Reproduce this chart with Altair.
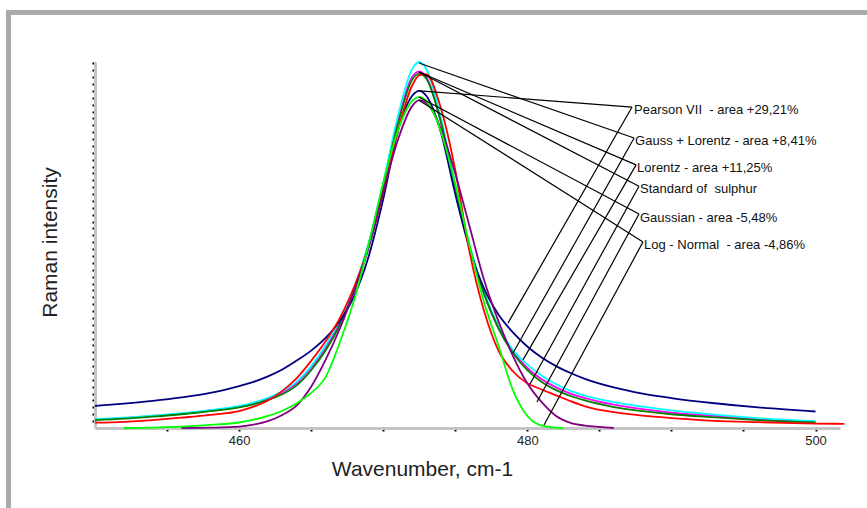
import altair as alt
import pandas as pd

FONT = "Liberation Sans"

# ---- curves (wavenumber, intensity) ----
W = [450, 452, 454, 456, 458, 460, 461, 462, 463, 464, 465, 466, 467, 468, 469,
     470, 471, 472, 472.5, 473, 474, 475, 476, 477, 478, 479, 480, 481, 482, 483,
     484, 486, 488, 490, 493, 496, 500]
CYAN = [.026, .030, .036, .043, .052, .064, .074, .088, .107, .135, .180, .240, .315, .410, .540,
        .712, .903, 1.043, 1.064, 1.043, .903, .709, .532, .395, .295, .227, .185, .152, .127, .108,
        .094, .075, .062, .051, .039, .029, .020]
GREEN = [.023, .027, .033, .040, .049, .060, .069, .081, .098, .124, .168, .225, .300, .400, .532,
         .703, .880, 1.012, 1.030, 1.015, .890, .700, .525, .390, .290, .218, .168, .134, .110, .093,
         .080, .061, .049, .040, .031, .023, .016]
MAGENTA = [.025, .029, .035, .042, .051, .062, .072, .085, .103, .130, .175, .232, .308, .405, .536,
           .708, .890, 1.020, 1.036, 1.020, .890, .700, .525, .390, .290, .222, .175, .142, .118, .100,
           .087, .068, .055, .045, .035, .026, .018]
NAVY = [.064, .071, .079, .089, .102, .122, .134, .150, .170, .196, .225, .262, .312, .385, .500,
        .665, .860, .965, .980, .965, .860, .680, .520, .405, .330, .278, .237, .205, .180, .160,
        .143, .118, .100, .087, .072, .060, .048]
W_RED = W + [502]
RED = [.0154, .018, .023, .030, .038, .049, .062, .080, .108, .145, .195, .252, .320, .412, .528,
       .684, .860, .995, 1.025, 1.028, .930, .750, .510, .340, .225, .165, .130, .112, .095, .078,
       .063, .046, .036, .029, .021, .017, .013, .012]
W_LIME = [452, 454, 456, 458, 460, 461, 462, 463, 464, 465, 466, 467, 468, 469, 470,
          471, 472, 472.5, 473, 474, 475, 476, 477, 478, 479, 480, 481, 482, 482.5]
LIME = [0, .001, .004, .009, .016, .024, .035, .050, .072, .102, .148, .250, .375, .535, .712,
        .862, .950, .962, .950, .862, .709, .529, .365, .240, .110, .035, .007, .001, 0]
W_PURPLE = [456, 458, 460, 461, 462, 463, 464, 465, 466, 467, 468, 469, 470, 471, 472,
            472.5, 473, 474, 475, 476, 477, 478, 479, 480, 481, 482, 483, 484, 485, 486]
PURPLE = [0, .001, .004, .010, .020, .038, .066, .120, .198, .290, .400, .525, .685, .835, .935,
          .953, .945, .870, .740, .585, .430, .310, .210, .130, .075, .035, .015, .007, .003, 0]

# draw order (bottom to top) and colours
CURVES = [
    ("magenta", W, MAGENTA, "#ff00ff"),
    ("cyan", W, CYAN, "#00ffff"),
    ("green", W, GREEN, "#008000"),
    ("navy", W, NAVY, "#000080"),
    ("red", W_RED, RED, "#ff0000"),
    ("purple", W_PURPLE, PURPLE, "#800080"),
    ("lime", W_LIME, LIME, "#00ff00"),
]

# ---- annotation leader lines ----
ANN_X1 = [472.55, 472.48, 472.48, 472.48, 472.48, 472.48,
          487.27, 487.41, 487.55, 487.75, 487.75, 488.03]
ANN_Y1 = [0.980, 1.061, 1.035, 1.035, 0.962, 0.953,
          0.933, 0.843, 0.765, 0.703, 0.622, 0.541]
ANN_X2 = [487.27, 487.41, 487.55, 487.75, 487.75, 488.03,
          478.66, 479.01, 479.70, 480.19, 480.67, 481.16]
ANN_Y2 = [0.933, 0.843, 0.765, 0.703, 0.622, 0.541,
          0.305, 0.218, 0.198, 0.128, 0.0756, 0.0087]

LABELS = ["Pearson VII\u00a0 - area +29,21%", "Gauss + Lorentz - area +8,41%",
          "Lorentz - area +11,25%", "Standard of\u00a0 sulphur",
          "Gaussian - area -5,48%", "Log - Normal\u00a0 - area -4,86%"]
LABEL_X = [487.34, 487.41, 487.55, 487.75, 487.75, 488.03]
LABEL_Y = [0.924, 0.834, 0.756, 0.695, 0.610, 0.532]

X_TICKS = [455, 460, 465, 470, 475, 480, 485, 490, 495, 500]
Y_TICKS = [round(0.02 * i, 2) for i in range(1, 54)]

xscale = alt.Scale(domain=[450, 501.7], nice=False, zero=False)
yscale = alt.Scale(domain=[0, 1.064], nice=False)

xaxis = alt.Axis(values=X_TICKS, labelExpr="datum.value % 20 == 0 ? datum.label : ''",
                 grid=False, domainColor="#c4c4c4", domainWidth=3, tickColor="#000000",
                 tickWidth=2, tickSize=3, labelFont=FONT, labelFontSize=13, labelColor="#222222",
                 labelPadding=3, title="Wavenumber, cm-1", titleFont=FONT, titleFontSize=21,
                 titleFontWeight="normal", titleColor="#222222", titlePadding=11,
                 titleX=327, titleAlign="center")
yaxis = alt.Axis(values=Y_TICKS, labels=False, grid=False, domainColor="#c4c4c4", domainWidth=3,
                 tickColor="#000000", tickWidth=2, tickSize=3,
                 title="Raman intensity", titleFont=FONT, titleFontSize=21,
                 titleFontWeight="normal", titleColor="#222222", titlePadding=31,
                 titleY=180, titleAlign="center")

layers = []
for name, xs, ys, col in CURVES:
    df = pd.DataFrame({"w": xs, "I": ys})
    layers.append(alt.Chart(df).mark_line(color=col, strokeWidth=1.8, interpolate="monotone")
                  .encode(x=alt.X("w:Q", scale=xscale, axis=xaxis),
                          y=alt.Y("I:Q", scale=yscale, axis=yaxis)))

ann_df = pd.DataFrame({"x1": ANN_X1, "y1": ANN_Y1, "x2": ANN_X2, "y2": ANN_Y2})
ann = alt.Chart(ann_df).mark_rule(color="#000000", strokeWidth=1.2).encode(
    x=alt.X("x1:Q", scale=xscale, axis=xaxis), y=alt.Y("y1:Q", scale=yscale, axis=yaxis),
    x2="x2:Q", y2="y2:Q")

lab_df = pd.DataFrame({"x": LABEL_X, "y": LABEL_Y, "t": LABELS})
labels = alt.Chart(lab_df).mark_text(align="left", baseline="middle", font=FONT, fontSize=13,
                                     color="#111111", dx=1).encode(
    x=alt.X("x:Q", scale=xscale, axis=xaxis), y=alt.Y("y:Q", scale=yscale, axis=yaxis), text="t:N")

frame_df = pd.DataFrame({"k": [0]})
top_bar = alt.Chart(frame_df).mark_rule(color="#a8a9ab", strokeWidth=5, strokeCap="butt").encode(
    x=alt.value(-89), x2=alt.value(772), y=alt.value(-49.5))
left_bar = alt.Chart(frame_df).mark_rule(color="#a8a9ab", strokeWidth=5, strokeCap="butt").encode(
    x=alt.value(-86.5), y=alt.value(-52), y2=alt.value(446))

chart = alt.layer(*layers, ann, labels, top_bar, left_bar).properties(
    width=745, height=366,
    autosize=alt.AutoSizeParams(type="none"),
    padding={"left": 95, "top": 62, "right": 27, "bottom": 80},
    background="#ffffff",
).configure_view(stroke=None)

chart.save("out.html", embed_options={"renderer": "svg", "actions": False})
